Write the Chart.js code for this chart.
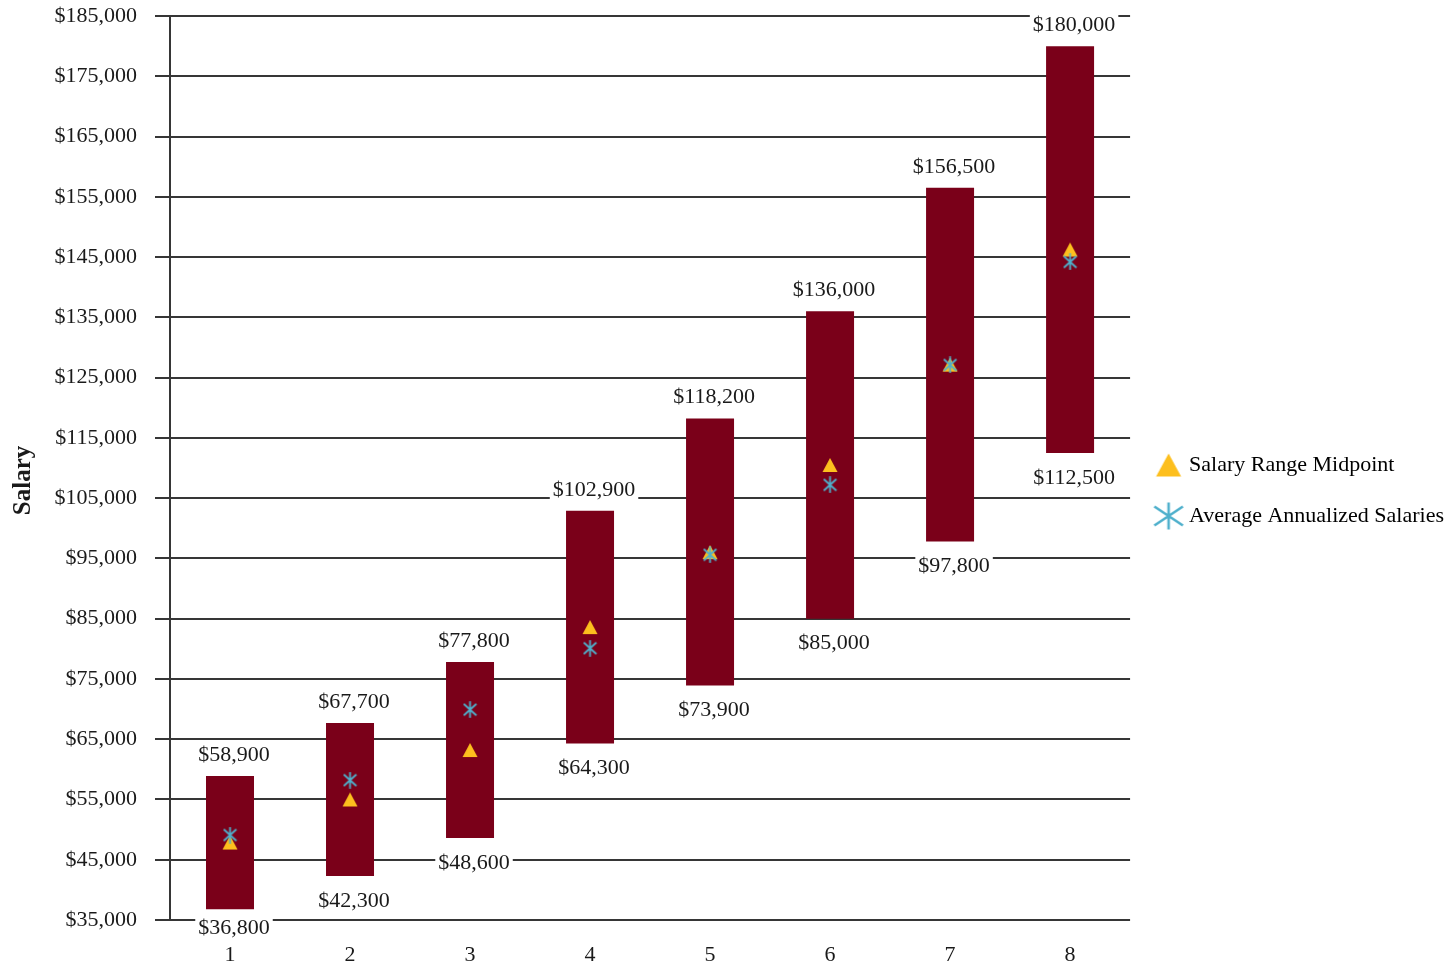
<!DOCTYPE html>
<html>
<head>
<meta charset="utf-8">
<title>Salary Ranges by Grade</title>
<script src="https://cdn.jsdelivr.net/npm/chart.js@4.4.1/dist/chart.umd.min.js"></script>
<style>
  html, body { margin: 0; padding: 0; background: #ffffff; }
  #wrap { width: 1455px; height: 965px; position: relative; }
</style>
</head>
<body>
<div id="wrap"><canvas id="salaryChart"></canvas></div>
<script>
// Salary grades and their ranges
const grades = ['1', '2', '3', '4', '5', '6', '7', '8'];
const rangeMin = [36800, 42300, 48600, 64300, 73900, 85000, 97800, 112500];
const rangeMax = [58900, 67700, 77800, 102900, 118200, 136000, 156500, 180000];
const rangeMidpoint = [47850, 55000, 63200, 83600, 96050, 110500, 127150, 146250];
const averageSalary = [49100, 58200, 69900, 80100, 95600, 107200, 127100, 144200];

// Value axis
const yMin = 35000;
const yMax = 185000;
const yStep = 10000;

const seriesNames = ['Salary Range Midpoint', 'Average Annualized Salaries'];

const FONT = '"Liberation Serif", "Times New Roman", serif';
const FONT_SIZE = 22;
const BAR_COLOR = '#7a0019';
const MID_COLOR = '#fdbf1e';
const AVG_COLOR = '#4fb0cc';
const GRID_COLOR = '#363636';
const TEXT_COLOR = '#1a1a1a';

const money = v => '$' + Number(v).toLocaleString('en-US');

// Asterisk marker: an X crossed by a vertical stroke
function makeAsterisk(w, h, lw) {
  const c = document.createElement('canvas');
  c.width = w; c.height = h;
  const g = c.getContext('2d');
  const cx = w / 2, cy = h / 2;
  const rx = w * 0.42, ry = h * 0.34, rv = h * 0.48;
  g.strokeStyle = AVG_COLOR;
  g.lineWidth = lw;
  g.lineCap = 'butt';
  g.beginPath();
  g.moveTo(cx, cy - rv); g.lineTo(cx, cy + rv);
  g.moveTo(cx - rx, cy - ry); g.lineTo(cx + rx, cy + ry);
  g.moveTo(cx - rx, cy + ry); g.lineTo(cx + rx, cy - ry);
  g.stroke();
  return c;
}

// Filled triangle marker, centred on its bounding box
function makeTriangle(w, h, tw, th) {
  const c = document.createElement('canvas');
  c.width = w; c.height = h;
  const g = c.getContext('2d');
  const cx = w / 2, cy = h / 2;
  g.fillStyle = MID_COLOR;
  g.beginPath();
  g.moveTo(cx, cy - th / 2);
  g.lineTo(cx + tw / 2, cy + th / 2);
  g.lineTo(cx - tw / 2, cy + th / 2);
  g.closePath();
  g.fill();
  return c;
}

const asteriskPoint = makeAsterisk(15, 17, 1.8);
const trianglePoint = makeTriangle(16, 16, 15, 14);
const asteriskLegend = makeAsterisk(34, 28, 2.6);
const triangleLegend = makeTriangle(34, 28, 25, 23);

// Min / max value labels on white boxes around each bar
const rangeLabels = {
  id: 'rangeLabels',
  afterDatasetsDraw(chart) {
    const x = chart.scales.x, y = chart.scales.y, area = chart.chartArea;
    const ctx = chart.ctx;
    ctx.save();
    ctx.font = FONT_SIZE + 'px ' + FONT;
    ctx.textAlign = 'center';
    ctx.textBaseline = 'middle';
    const draw = (text, px, py) => {
      const w = ctx.measureText(text).width;
      ctx.fillStyle = '#ffffff';
      ctx.fillRect(px - w / 2 - 3, py - 12, w + 6, 24);
      ctx.fillStyle = TEXT_COLOR;
      ctx.fillText(text, px, py);
    };
    grades.forEach((g, i) => {
      const px = x.getPixelForValue(i) + 4;
      const top = y.getPixelForValue(rangeMax[i]);
      const bottom = y.getPixelForValue(rangeMin[i]);
      draw(money(rangeMax[i]), px, Math.max(top - 21, area.top + 8));
      draw(money(rangeMin[i]), px, Math.min(bottom + 25, area.bottom + 8));
    });
    ctx.restore();
  }
};

Chart.defaults.font.family = FONT;
Chart.defaults.color = TEXT_COLOR;

new Chart(document.getElementById('salaryChart'), {
  data: {
    labels: grades,
    datasets: [
      {
        type: 'line',
        label: seriesNames[1],
        data: averageSalary,
        showLine: false,
        pointStyle: asteriskPoint,
        pointRadius: 8,
        pointHoverRadius: 8,
        order: 1
      },
      {
        type: 'line',
        label: seriesNames[0],
        data: rangeMidpoint,
        showLine: false,
        pointStyle: trianglePoint,
        pointRadius: 8,
        pointHoverRadius: 8,
        order: 2
      },
      {
        type: 'bar',
        label: 'Salary Range',
        data: grades.map((g, i) => [rangeMin[i], rangeMax[i]]),
        backgroundColor: BAR_COLOR,
        borderWidth: 0,
        barPercentage: 0.4,
        categoryPercentage: 1.0,
        order: 3
      }
    ]
  },
  options: {
    responsive: true,
    maintainAspectRatio: false,
    animation: false,
    devicePixelRatio: 1,
    layout: { padding: { top: 16, right: 1, bottom: 0, left: 0 } },
    plugins: {
      tooltip: { enabled: false },
      legend: {
        position: 'right',
        align: 'center',
        labels: {
          font: { size: FONT_SIZE, family: FONT },
          color: TEXT_COLOR,
          usePointStyle: true,
          pointStyleWidth: 19,
          padding: 29,
          generateLabels() {
            return [
              { text: seriesNames[0], pointStyle: triangleLegend, fillStyle: MID_COLOR, strokeStyle: MID_COLOR, lineWidth: 0, hidden: false, datasetIndex: 1 },
              { text: seriesNames[1], pointStyle: asteriskLegend, fillStyle: AVG_COLOR, strokeStyle: AVG_COLOR, lineWidth: 0, hidden: false, datasetIndex: 0 }
            ];
          }
        }
      }
    },
    scales: {
      x: {
        type: 'category',
        offset: true,
        grid: { display: false, drawTicks: false },
        border: { display: false },
        ticks: { font: { size: FONT_SIZE, family: FONT }, color: TEXT_COLOR, padding: 22 },
        afterFit(scale) {
          scale.height = 45;
          scale.paddingLeft = 0; scale.paddingRight = 0;
        }
      },
      y: {
        min: yMin,
        max: yMax,
        ticks: {
          stepSize: yStep,
          padding: 18,
          font: { size: FONT_SIZE, family: FONT },
          color: TEXT_COLOR,
          callback: v => money(v)
        },
        grid: { color: GRID_COLOR, lineWidth: 2, tickLength: 15, tickColor: GRID_COLOR, drawTicks: true },
        border: { display: true, color: GRID_COLOR, width: 2 },
        title: {
          display: true,
          // trailing spaces keep the word centred slightly below the plot middle
          text: 'Salary    ',
          font: { size: 25, weight: 'bold', family: FONT },
          color: TEXT_COLOR,
          padding: { top: 9, bottom: 4 }
        },
        afterFit(scale) {
          scale.width = 170;
          scale.paddingTop = 0; scale.paddingBottom = 0;
        }
      }
    }
  },
  plugins: [rangeLabels]
});
</script>
</body>
</html>
